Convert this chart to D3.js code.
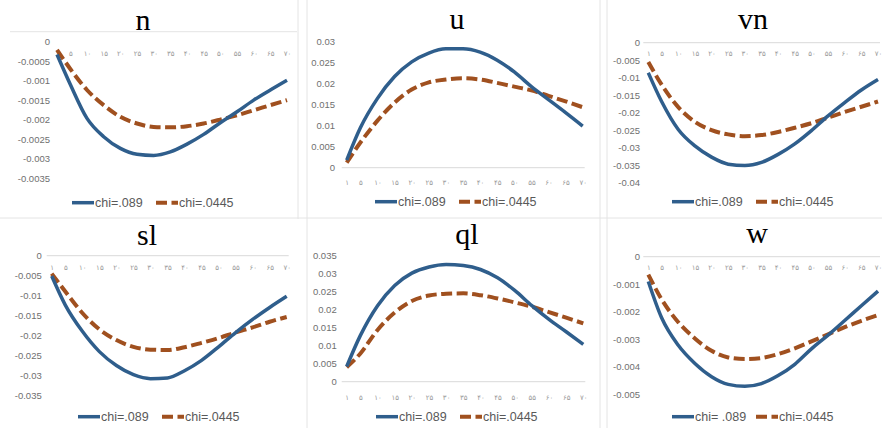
<!DOCTYPE html>
<html>
<head>
<meta charset="utf-8">
<script src="https://cdn.jsdelivr.net/npm/d3@7"></script>
<style>
  body { margin: 0; background: #fff; }
</style>
</head>
<body>
<script>
// periodes (axe x) et libellés en chiffres persans
const periods = [1, 5, 10, 15, 20, 25, 30, 35, 40, 45, 50, 55, 60, 65, 70];
const tickLabels = ["۱", "۵", "۱۰", "۱۵", "۲۰", "۲۵", "۳۰", "۳۵", "۴۰", "۴۵", "۵۰", "۵۵", "۶۰", "۶۵", "۷۰"];

// series chi=.089 / chi=.0445
const n089 = [-0.00033, -0.0011, -0.00197, -0.00244, -0.00274, -0.00289, -0.00292, -0.00283, -0.00263, -0.00238, -0.00208, -0.0018, -0.0015, -0.00124, -0.00099];
const n0445 = [-0.00021, -0.0007, -0.00124, -0.00163, -0.00193, -0.0021, -0.00219, -0.0022, -0.00217, -0.0021, -0.002, -0.00189, -0.00176, -0.00163, -0.0015];
const u089 = [0.0018, 0.0095, 0.0165, 0.0217, 0.0252, 0.0273, 0.0283, 0.0283, 0.0275, 0.0256, 0.0228, 0.0193, 0.0162, 0.0131, 0.0099];
const u0445 = [0.0012, 0.006, 0.0112, 0.0155, 0.0186, 0.0203, 0.021, 0.0213, 0.021, 0.0202, 0.0193, 0.0184, 0.0171, 0.0158, 0.0144];
const vn089 = [-0.0086, -0.0168, -0.0248, -0.0295, -0.0327, -0.0347, -0.0351, -0.0342, -0.0319, -0.0289, -0.0251, -0.0209, -0.0171, -0.0135, -0.0105];
const vn0445 = [-0.0055, -0.012, -0.0184, -0.0226, -0.025, -0.0262, -0.0267, -0.0264, -0.0255, -0.0243, -0.023, -0.0214, -0.0198, -0.0183, -0.0168];
const sl089 = [-0.0051, -0.0124, -0.019, -0.0241, -0.0276, -0.0299, -0.0309, -0.0307, -0.0289, -0.0263, -0.0229, -0.0193, -0.016, -0.013, -0.0102];
const sl0445 = [-0.0045, -0.009, -0.0144, -0.0185, -0.0212, -0.0229, -0.0236, -0.0237, -0.023, -0.0219, -0.0207, -0.0193, -0.018, -0.0166, -0.0154];
const ql089 = [0.0042, 0.0128, 0.021, 0.0266, 0.03, 0.0317, 0.0324, 0.0321, 0.031, 0.0287, 0.0252, 0.021, 0.0172, 0.0138, 0.0103];
const ql0445 = [0.004, 0.0078, 0.0143, 0.0191, 0.0223, 0.0238, 0.0243, 0.0244, 0.0239, 0.023, 0.0219, 0.0207, 0.0192, 0.0177, 0.0161];
const w089 = [-0.0009, -0.00222, -0.00322, -0.00388, -0.00436, -0.00464, -0.00471, -0.00461, -0.00432, -0.00391, -0.00335, -0.00285, -0.00232, -0.00178, -0.00125];
const w0445 = [-0.00065, -0.00155, -0.00238, -0.00297, -0.00342, -0.00366, -0.00372, -0.00368, -0.00354, -0.00333, -0.00308, -0.00282, -0.00256, -0.00233, -0.00212];

// graduations y
const nTicks = [0, -0.0005, -0.001, -0.0015, -0.002, -0.0025, -0.003, -0.0035];
const uTicks = [0, 0.005, 0.01, 0.015, 0.02, 0.025, 0.03];
const vnTicks = [0, -0.005, -0.01, -0.015, -0.02, -0.025, -0.03, -0.035, -0.04];
const slTicks = [0, -0.005, -0.01, -0.015, -0.02, -0.025, -0.03, -0.035];
const qlTicks = [0, 0.005, 0.01, 0.015, 0.02, 0.025, 0.03, 0.035];
const wTicks = [0, -0.001, -0.002, -0.003, -0.004, -0.005];

const legend1 = "chi=.089";
const legend2 = "chi=.0445";

const blue = "#2f5e8c";
const orange = "#a0501f";

// mise en page des six panneaux
const panels = [
    { title: "n", a: n089, b: n0445, ticks: nTicks, x0: 57, x1: 287, yTop: 41.7, yBot: 178, tx: 143, ty: 30, lx: 50, pad: 9, legX: 72, legY: 202.7, leg1: legend1, hideAxis: true },
    { title: "u", a: u089, b: u0445, ticks: uTicks, x0: 346.7, x1: 582.7, yTop: 41.7, yBot: 167.7, tx: 457, ty: 29, lx: 335, pad: 12.5, legX: 375, legY: 201.7, leg1: legend1 },
    { title: "vn", a: vn089, b: vn0445, ticks: vnTicks, x0: 648.3, x1: 878, yTop: 42.7, yBot: 182.7, tx: 753, ty: 29, lx: 640, pad: 8, legX: 672, legY: 201.7, leg1: legend1 },
    { title: "sl", a: sl089, b: sl0445, ticks: slTicks, x0: 51.7, x1: 286.7, yTop: 255.7, yBot: 395, tx: 147, ty: 245, lx: 41.7, pad: 9.5, legX: 78, legY: 416.7, leg1: legend1 },
    { title: "ql", a: ql089, b: ql0445, ticks: qlTicks, x0: 346.7, x1: 583.3, yTop: 255, yBot: 381.7, tx: 467, ty: 244, lx: 336.7, pad: 13.5, legX: 376, legY: 416.7, leg1: legend1 },
    { title: "w", a: w089, b: w0445, ticks: wTicks, x0: 648.3, x1: 878, yTop: 256.7, yBot: 394.3, tx: 757, ty: 243, lx: 640, pad: 8.5, legX: 672, legY: 416.7, leg1: "chi= .089" }
];

const svg = d3.select("body").append("svg")
    .attr("width", 882)
    .attr("height", 428);

// bordures claires entre les images
const borders = [
    [298, 0, 298, 219], [307, 0, 307, 428], [600, 0, 600, 428], [607, 0, 607, 428],
    [0, 218, 882, 218], [10, 31.7, 297, 31.7]
];
svg.selectAll("line.border")
    .data(borders)
    .enter().append("line")
    .attr("x1", d => d[0]).attr("y1", d => d[1])
    .attr("x2", d => d[2]).attr("y2", d => d[3])
    .attr("stroke", "#e4e4e4")
    .attr("stroke-width", 1);

const fmt = v => String(+v.toFixed(6));

function dessinerPanneau(p) {
    const g = svg.append("g");

    const x = d3.scaleLinear()
        .domain([1, 70])
        .range([p.x0, p.x1]);

    const y = d3.scaleLinear()
        .domain(d3.extent(p.ticks))
        .range([p.yBot, p.yTop]);

    // axe x sur la valeur 0
    const axeX = g.append("g")
        .attr("transform", "translate(0," + y(0) + ")")
        .call(d3.axisBottom(x)
            .tickValues(periods)
            .tickFormat((d, i) => tickLabels[i])
            .tickSize(0)
            .tickPadding(p.pad));
    axeX.select(".domain")
        .attr("stroke", p.hideAxis ? "none" : "#d9d9d9")
        .attr("d", "M" + (p.x0 - 5) + ",0H" + Math.min(p.x1 + 2, 882));
    axeX.selectAll("text")
        .attr("fill", "#9a9a9a")
        .attr("font-family", "DejaVu Sans")
        .attr("font-size", 7);

    // axe y, libellés seulement
    const axeY = g.append("g")
        .attr("transform", "translate(" + p.lx + ",0)")
        .call(d3.axisLeft(y)
            .tickValues(p.ticks)
            .tickFormat(fmt)
            .tickSize(0)
            .tickPadding(0));
    axeY.select(".domain").remove();
    axeY.selectAll("text")
        .attr("fill", "#6f6f6f")
        .attr("font-family", "Liberation Sans")
        .attr("font-size", 9.5);

    const ligne = d3.line()
        .x((d, i) => x(periods[i]))
        .y(d => y(d))
        .curve(d3.curveMonotoneX);

    g.append("path")
        .attr("d", ligne(p.b))
        .attr("fill", "none")
        .attr("stroke", orange)
        .attr("stroke-width", 4)
        .attr("stroke-dasharray", "11,4.5");

    g.append("path")
        .attr("d", ligne(p.a))
        .attr("fill", "none")
        .attr("stroke", blue)
        .attr("stroke-width", 3.5);

    // titre
    g.append("text")
        .attr("x", p.tx)
        .attr("y", p.ty)
        .attr("text-anchor", "middle")
        .attr("font-family", "Liberation Serif")
        .attr("font-size", 30)
        .attr("fill", "#000")
        .text(p.title);

    // légende
    const leg = g.append("g").attr("transform", "translate(" + p.legX + "," + p.legY + ")");
    leg.append("line")
        .attr("x1", 0).attr("x2", 22)
        .attr("stroke", blue).attr("stroke-width", 3.5);
    leg.append("text")
        .attr("x", 23).attr("y", 4.5)
        .attr("font-family", "Liberation Sans").attr("font-size", 12.5)
        .attr("fill", "#595959")
        .text(p.leg1);
    leg.append("line")
        .attr("x1", 84).attr("x2", 106)
        .attr("stroke", orange).attr("stroke-width", 4)
        .attr("stroke-dasharray", "11,4.5");
    leg.append("text")
        .attr("x", 107).attr("y", 4.5)
        .attr("font-family", "Liberation Sans").attr("font-size", 12.5)
        .attr("fill", "#595959")
        .text(legend2);
}

panels.forEach(dessinerPanneau);
</script>
</body>
</html>
